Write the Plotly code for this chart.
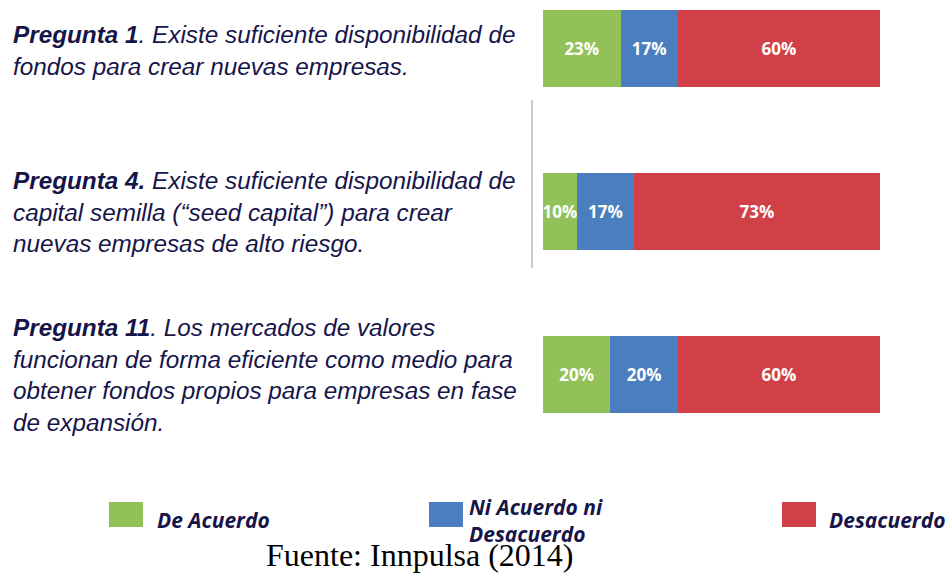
import plotly.graph_objects as go

preguntas = ['Pregunta 1', 'Pregunta 4', 'Pregunta 11']
de_acuerdo = [23, 10, 20]
ni_acuerdo = [17, 17, 20]
desacuerdo = [60, 73, 60]

textos = [
    '<b>Pregunta 1</b>. Existe suficiente disponibilidad de<br>fondos para crear nuevas empresas.',
    '<b>Pregunta 4.</b> Existe suficiente disponibilidad de<br>capital semilla (“seed capital”) para crear<br>nuevas empresas de alto riesgo.',
    '<b>Pregunta 11</b>. Los mercados de valores<br>funcionan de forma eficiente como medio para<br>obtener fondos propios para empresas en fase<br>de expansión.',
]

W, H = 948, 573
NAVY = '#16154a'
colores = ['#92c15a', '#4a7ebf', '#d04046']
series = [('De Acuerdo', de_acuerdo), ('Ni Acuerdo ni Desacuerdo', ni_acuerdo), ('Desacuerdo', desacuerdo)]

fig = go.Figure()

for (nombre, vals), col in zip(series, colores):
    fig.add_trace(go.Bar(
        y=preguntas,
        x=vals,
        name=nombre,
        orientation='h',
        marker=dict(color=col, line=dict(width=0)),
        width=0.47,
        text=[f'{v}%' for v in vals],
        textposition='inside',
        insidetextanchor='middle',
        textangle=0,
        textfont=dict(family='Open Sans', size=17, color='white', weight='bold'),
        cliponaxis=False,
    ))

# question labels on the left
y_centros = [50, 212, 375]
for t, yc in zip(textos, y_centros):
    fig.add_annotation(
        x=11 / W, y=1 - yc / H, xref='paper', yref='paper',
        xanchor='left', yanchor='middle', align='left',
        text=f'<i>{t}</i>', showarrow=False,
        font=dict(family='Liberation Sans', size=24.3, color=NAVY),
    )

# thin grey separator
fig.add_shape(type='line', xref='paper', yref='paper',
              x0=532 / W, x1=532 / W, y0=1 - 100 / H, y1=1 - 268 / H,
              line=dict(color='#cccccc', width=2))

# legend drawn by hand
leyenda = [
    (109, 155, 'De Acuerdo', colores[0]),
    (429, 467, 'Ni Acuerdo ni<br>Desacuerdo', colores[1]),
    (782, 827, 'Desacuerdo', colores[2]),
]
for x0, xt, etiqueta, col in leyenda:
    fig.add_shape(type='rect', xref='paper', yref='paper',
                  x0=x0 / W, x1=(x0 + 34) / W, y0=1 - 527 / H, y1=1 - 502 / H,
                  fillcolor=col, line=dict(width=0))
    fig.add_annotation(
        x=xt / W, y=1 - 520 / H, xref='paper', yref='paper',
        xanchor='left', yanchor='middle', align='left',
        text=f'<b><i>{etiqueta}</i></b>', showarrow=False,
        font=dict(family='Open Sans', size=21, color=NAVY),
    )

fig.add_annotation(
    x=420 / W, y=1 - 555 / H, xref='paper', yref='paper',
    xanchor='center', yanchor='middle', showarrow=False,
    text='Fuente: Innpulsa (2014)',
    font=dict(family='Liberation Serif', size=32, color='black'),
)

fig.update_layout(
    barmode='stack',
    width=W, height=H,
    autosize=False,
    margin=dict(l=0, r=0, t=0, b=0),
    paper_bgcolor='white',
    plot_bgcolor='white',
    showlegend=False,
    uniformtext=dict(minsize=17, mode='show'),
    xaxis=dict(domain=[543 / W, 880 / W], range=[0, 100], visible=False),
    yaxis=dict(range=[3.218, -0.2975], visible=False),
)

fig.write_html('out.html', config={'displayModeBar': False},
               post_script="document.body.style.margin='0px';")
